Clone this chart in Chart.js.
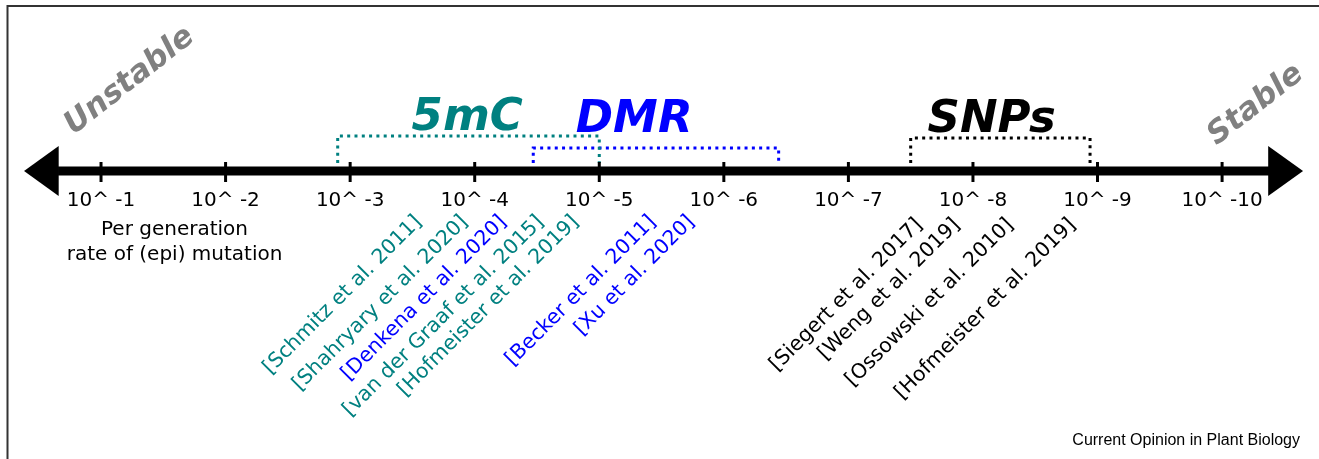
<!DOCTYPE html>
<html>
<head>
<meta charset="utf-8">
<script src="https://cdn.jsdelivr.net/npm/chart.js@4"></script>
<style>
  html, body { margin: 0; padding: 0; background: #fff; }
  #wrap { width: 1319px; height: 459px; position: relative; }
</style>
</head>
<body>
<div id="wrap"><canvas id="chart"></canvas></div>
<script>
// axis positions are exponents n of 10^ -n
const tickValues = [1, 2, 3, 4, 5, 6, 7, 8, 9, 10];
const tickLabels = ["10^ -1", "10^ -2", "10^ -3", "10^ -4", "10^ -5",
  "10^ -6", "10^ -7", "10^ -8", "10^ -9", "10^ -10"];

// measured ranges (brackets above the axis)
const groups = ["5mC", "DMR", "SNPs"];
const groupColors = ["#008080", "#0000ff", "#000000"];
const groupStart = [2.9, 4.47, 7.5];
const groupEnd = [5.0, 6.44, 8.94];
const groupLabelAt = [3.94, 5.28, 8.15];

// references under the axis
const refLabels = [
  "[Schmitz et al. 2011]", "[Shahryary et al. 2020]", "[Denkena et al. 2020]",
  "[van der Graaf et al. 2015]", "[Hofmeister et al. 2019]", "[Becker et al. 2011]",
  "[Xu et al. 2020]", "[Siegert et al. 2017]", "[Weng et al. 2019]",
  "[Ossowski et al. 2010]", "[Hofmeister et al. 2019]"
];
const refGroup = [0, 0, 1, 0, 0, 1, 1, 2, 2, 2, 2];
const refAt = [3.55, 3.92, 4.23, 4.53, 4.81, 5.43, 5.74, 7.57, 7.87, 8.3, 8.8];

const bracketH = [35, 23, 33];
const legH = 8;

const datasets = [
  {
    // main axis
    data: [{x: 0.655, y: 0}, {x: 10.377, y: 0}],
    showLine: true, borderColor: "#000", borderWidth: 9, pointRadius: 0
  },
  {
    // tick marks
    data: tickValues.map(v => ({x: v, y: -1})),
    showLine: false, pointStyle: "line", rotation: 90, pointRadius: 10,
    pointBorderWidth: 3, pointBorderColor: "#000"
  }
];
groups.forEach((g, i) => {
  datasets.push({
    data: [
      {x: groupStart[i], y: legH}, {x: groupStart[i], y: bracketH[i]},
      {x: groupEnd[i], y: bracketH[i]}, {x: groupEnd[i], y: legH}
    ],
    showLine: true, borderColor: groupColors[i], borderWidth: 3,
    borderDash: [3, 4.3], pointRadius: 0
  });
});

const drawing = {
  id: "drawing",
  beforeDraw(chart) {
    const ctx = chart.ctx;
    ctx.save();
    ctx.fillStyle = "#fff";
    ctx.fillRect(0, 0, chart.width, chart.height);
    ctx.strokeStyle = "#333";
    ctx.lineWidth = 2;
    ctx.beginPath();
    ctx.moveTo(chart.width, 6);
    ctx.lineTo(7.5, 6);
    ctx.lineTo(7.5, chart.height);
    ctx.stroke();
    ctx.restore();
  },
  afterDatasetsDraw(chart) {
    const ctx = chart.ctx;
    const x = chart.scales.x, y = chart.scales.y;
    ctx.save();

    // arrow heads
    ctx.fillStyle = "#000";
    ctx.beginPath();
    ctx.moveTo(x.getPixelForValue(0.382), y.getPixelForValue(0));
    ctx.lineTo(x.getPixelForValue(0.66), y.getPixelForValue(25));
    ctx.lineTo(x.getPixelForValue(0.66), y.getPixelForValue(-25));
    ctx.closePath();
    ctx.fill();
    ctx.beginPath();
    ctx.moveTo(x.getPixelForValue(10.65), y.getPixelForValue(0));
    ctx.lineTo(x.getPixelForValue(10.37), y.getPixelForValue(25));
    ctx.lineTo(x.getPixelForValue(10.37), y.getPixelForValue(-25));
    ctx.closePath();
    ctx.fill();

    // tick labels
    ctx.font = '20px "DejaVu Sans"';
    ctx.textAlign = "center";
    ctx.textBaseline = "alphabetic";
    tickLabels.forEach((t, i) => {
      ctx.fillText(t, x.getPixelForValue(tickValues[i]), y.getPixelForValue(-35));
    });
    ctx.fillText("Per generation", x.getPixelForValue(1.59), y.getPixelForValue(-64));
    ctx.fillText("rate of (epi) mutation", x.getPixelForValue(1.59), y.getPixelForValue(-89));

    // group titles
    ctx.font = 'italic bold 45px "DejaVu Sans"';
    groups.forEach((g, i) => {
      ctx.fillStyle = groupColors[i];
      ctx.fillText(g, x.getPixelForValue(groupLabelAt[i]), y.getPixelForValue(i === 0 ? 41 : 39));
    });

    // Unstable / Stable
    ctx.fillStyle = "#808080";
    ctx.font = 'italic bold 31px "DejaVu Sans"';
    ctx.textBaseline = "middle";
    [["Unstable", 1.23, 90], ["Stable", 10.27, 66]].forEach(([t, px, py]) => {
      ctx.save();
      ctx.translate(x.getPixelForValue(px), y.getPixelForValue(py));
      ctx.rotate(-38 * Math.PI / 180);
      ctx.fillText(t, 0, 0);
      ctx.restore();
    });

    // references
    ctx.font = '20.5px "DejaVu Sans"';
    ctx.textAlign = "right";
    refLabels.forEach((t, i) => {
      ctx.save();
      ctx.fillStyle = groupColors[refGroup[i]];
      ctx.translate(x.getPixelForValue(refAt[i]), y.getPixelForValue(refGroup[i] === 2 ? -51 : -48));
      ctx.rotate(-Math.PI / 4);
      ctx.fillText(t, 0, 0);
      ctx.restore();
    });

    // source
    ctx.fillStyle = "#000";
    ctx.font = '16px "Liberation Sans"';
    ctx.textBaseline = "alphabetic";
    ctx.fillText("Current Opinion in Plant Biology", chart.width - 19, chart.height - 14);
    ctx.restore();
  }
};

new Chart(document.getElementById("chart"), {
  type: "scatter",
  data: { datasets: datasets },
  options: {
    responsive: true,
    maintainAspectRatio: false,
    animation: false,
    layout: { padding: 0, autoPadding: false },
    plugins: { legend: { display: false }, tooltip: { enabled: false } },
    scales: {
      x: { type: "linear", min: 0.189, max: 10.778, display: false },
      y: { type: "linear", min: -288, max: 171, display: false }
    }
  },
  plugins: [drawing]
});
</script>
</body>
</html>
